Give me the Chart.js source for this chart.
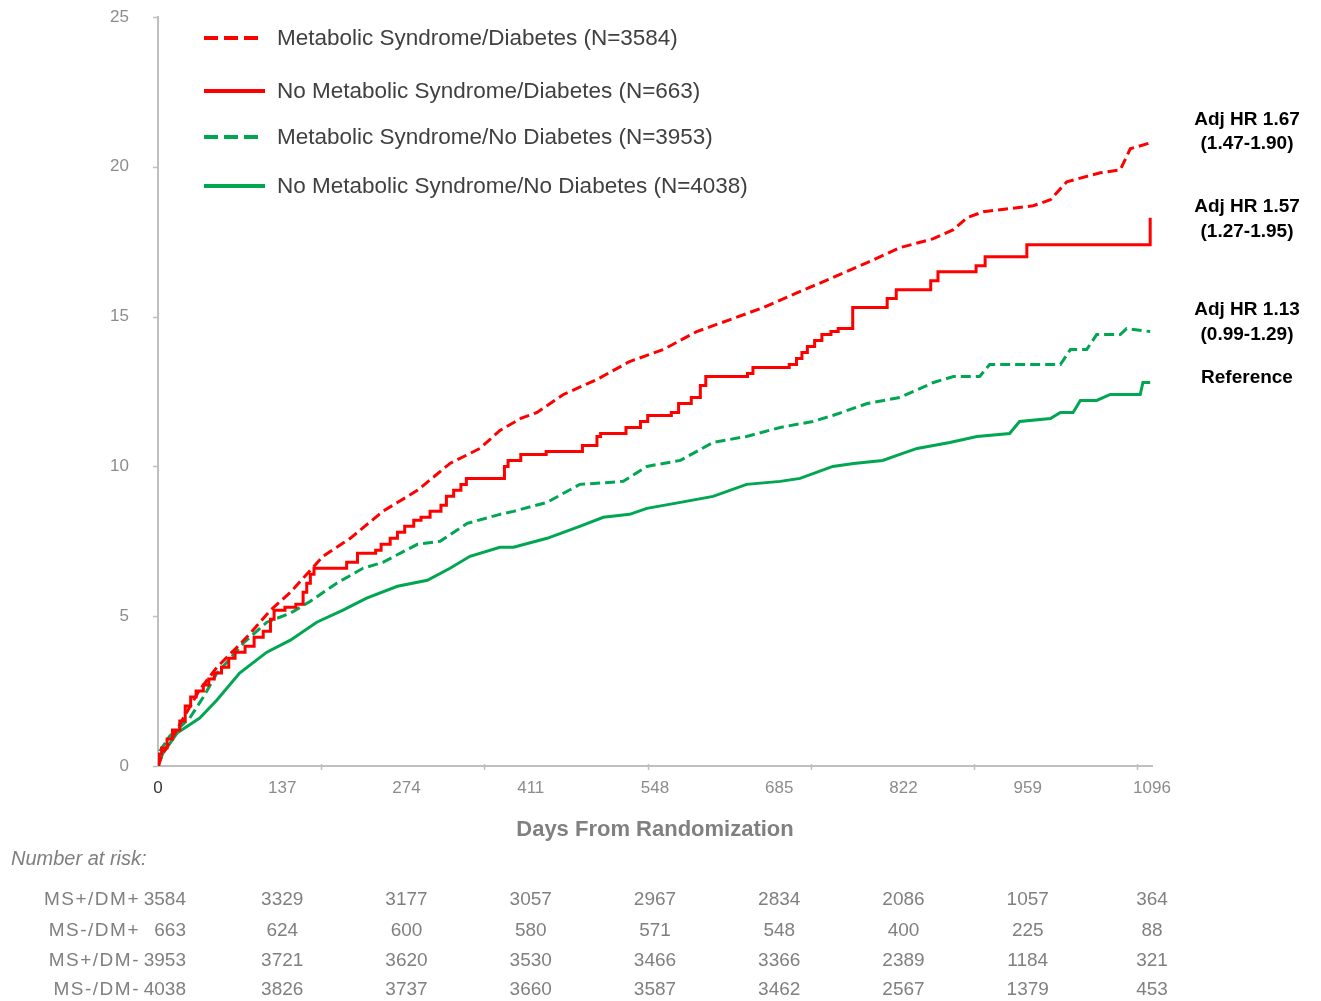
<!DOCTYPE html>
<html>
<head>
<meta charset="utf-8">
<script src="https://cdn.jsdelivr.net/npm/chart.js@4.4.0/dist/chart.umd.min.js"></script>
<style>
html,body{margin:0;padding:0;background:#ffffff;}
#wrap{width:1321px;height:1001px;position:relative;}
</style>
</head>
<body>
<div id="wrap"><canvas id="c" width="1321" height="1001"></canvas></div>
<script>
// ---------- data ----------
const xTickDays = [0, 137, 274, 411, 548, 685, 822, 959, 1096];
const yTickVals = [0, 5, 10, 15, 20, 25];

const seriesNames = [
  'Metabolic Syndrome/Diabetes (N=3584)',
  'No Metabolic Syndrome/Diabetes (N=663)',
  'Metabolic Syndrome/No Diabetes (N=3953)',
  'No Metabolic Syndrome/No Diabetes (N=4038)'
];

// MS+/DM+ (red dashed)
const msDmDays = [0,5,15,28,45,65,85,101,124,146,164,182,212,248,286,322,355,377,400,418,447,484,520,557,594,631,667,705,744,782,818,855,877,892,910,965,984,1002,1039,1061,1072,1094];
const msDmVals = [0,0.4,0.9,1.6,2.5,3.3,3.9,4.4,5.2,5.8,6.4,7.0,7.6,8.5,9.2,10.1,10.6,11.2,11.6,11.8,12.4,12.9,13.5,13.9,14.5,14.9,15.3,15.8,16.3,16.8,17.3,17.6,17.9,18.3,18.5,18.7,18.9,19.5,19.8,19.9,20.6,20.8];

// MS-/DM+ (red solid, step)
const noMsDmDays = [0,1,4,10,16,24,30,36,42,50,56,62,70,78,85,96,106,116,124,128,140,152,160,164,168,172,208,220,240,246,256,264,272,282,290,300,312,318,326,334,340,382,386,400,428,468,484,488,516,532,540,566,574,588,598,604,650,656,696,704,710,716,724,732,742,750,766,804,814,852,860,902,912,958,1094];
const noMsDmVals = [0,0.4,0.6,0.9,1.2,1.5,2.0,2.3,2.5,2.7,2.9,3.1,3.3,3.6,3.8,4.0,4.3,4.5,4.9,5.2,5.3,5.4,5.8,6.1,6.4,6.6,6.8,7.1,7.2,7.4,7.6,7.8,8.0,8.2,8.3,8.5,8.7,9.0,9.2,9.4,9.6,10.0,10.2,10.4,10.5,10.7,11.0,11.1,11.3,11.5,11.7,11.8,12.1,12.3,12.7,13.0,13.1,13.3,13.4,13.6,13.8,14.0,14.2,14.4,14.5,14.6,15.3,15.6,15.9,16.2,16.5,16.7,17.0,17.4,18.3];

// MS+/DM- (green dashed)
const msNoDmDays = [0,2,13,35,50,65,80,94,120,146,168,197,226,248,286,311,341,377,392,429,465,513,539,576,612,649,686,722,744,782,818,855,877,906,917,995,1006,1024,1035,1061,1068,1094];
const msNoDmVals = [0,0.5,1.0,1.6,2.3,3.1,3.6,4.1,4.8,5.1,5.5,6.1,6.6,6.8,7.4,7.5,8.1,8.4,8.5,8.8,9.4,9.5,10.0,10.2,10.8,11.0,11.3,11.5,11.7,12.1,12.3,12.8,13.0,13.0,13.4,13.4,13.9,13.9,14.4,14.4,14.6,14.5];

// MS-/DM- (green solid)
const noMsNoDmDays = [0,5,21,46,65,90,120,146,175,204,230,264,297,322,344,377,392,429,465,491,520,539,576,612,649,686,708,744,767,799,818,837,873,903,939,950,984,995,1009,1017,1035,1050,1083,1086,1094];
const noMsNoDmVals = [0,0.4,1.1,1.6,2.2,3.1,3.8,4.2,4.8,5.2,5.6,6.0,6.2,6.6,7.0,7.3,7.3,7.6,8.0,8.3,8.4,8.6,8.8,9.0,9.4,9.5,9.6,10.0,10.1,10.2,10.4,10.6,10.8,11.0,11.1,11.5,11.6,11.8,11.8,12.2,12.2,12.4,12.4,12.8,12.8];

// Hazard ratio annotations
const hrLines = [
  ['Adj HR 1.67', '(1.47-1.90)'],
  ['Adj HR 1.57', '(1.27-1.95)'],
  ['Adj HR 1.13', '(0.99-1.29)'],
  ['Reference']
];

// Number at risk
const riskTitle = 'Number at risk:';
const riskLabels = ['MS+/DM+', 'MS-/DM+', 'MS+/DM-', 'MS-/DM-'];
const riskMsDm     = [3584, 3329, 3177, 3057, 2967, 2834, 2086, 1057, 364];
const riskNoMsDm   = [663, 624, 600, 580, 571, 548, 400, 225, 88];
const riskMsNoDm   = [3953, 3721, 3620, 3530, 3466, 3366, 2389, 1184, 321];
const riskNoMsNoDm = [4038, 3826, 3737, 3660, 3587, 3462, 2567, 1379, 453];

// ---------- styling ----------
const RED = '#FF0000';
const GREEN = '#00A651';
const AXIS = '#BFBFBF';
const FONT = '"Liberation Sans", Arial, Helvetica, sans-serif';
const toPts = (d, v) => d.map((x, i) => ({x: x, y: v[i]}));

const datasets = [
  {label: seriesNames[0], data: toPts(msDmDays, msDmVals), borderColor: RED, borderDash: [10, 5], stepped: false},
  {label: seriesNames[1], data: toPts(noMsDmDays, noMsDmVals), borderColor: RED, borderDash: [], stepped: true},
  {label: seriesNames[2], data: toPts(msNoDmDays, msNoDmVals), borderColor: GREEN, borderDash: [10, 5], stepped: false},
  {label: seriesNames[3], data: toPts(noMsNoDmDays, noMsNoDmVals), borderColor: GREEN, borderDash: [], stepped: false}
].map(d => Object.assign(d, {borderWidth: 3, pointRadius: 0, fill: false, tension: 0, backgroundColor: d.borderColor}));

const extrasPlugin = {
  id: 'extras',
  afterDraw(chart) {
    const ctx = chart.ctx;
    const xs = chart.scales.x;
    const ys = chart.scales.y;
    const area = chart.chartArea;
    ctx.save();

    // small axis tick marks
    ctx.strokeStyle = AXIS;
    ctx.lineWidth = 1.5;
    for (let d = 180; d <= 1096; d += 180) {
      const px = Math.round(xs.getPixelForValue(d)) + 0.5;
      ctx.beginPath();
      ctx.moveTo(px, area.bottom - 2);
      ctx.lineTo(px, area.bottom + 4);
      ctx.stroke();
    }
    yTickVals.forEach(v => {
      const py = Math.round(ys.getPixelForValue(v)) + 0.5;
      ctx.beginPath();
      ctx.moveTo(area.left - 5, py);
      ctx.lineTo(area.left, py);
      ctx.stroke();
    });

    // legend
    const legY = [38, 91, 137, 186];
    chart.data.datasets.forEach((ds, i) => {
      const y = legY[i];
      ctx.strokeStyle = ds.borderColor;
      ctx.lineWidth = 4;
      ctx.lineCap = 'butt';
      ctx.setLineDash(ds.borderDash.length ? [14, 6] : []);
      ctx.beginPath();
      ctx.moveTo(204, y);
      ctx.lineTo(ds.borderDash.length ? 258 : 265, y);
      ctx.stroke();
      ctx.setLineDash([]);
      ctx.fillStyle = '#404040';
      ctx.font = '22.5px ' + FONT;
      ctx.textAlign = 'left';
      ctx.textBaseline = 'middle';
      ctx.fillText(ds.label, 277, y + 1);
    });

    // HR annotations
    ctx.fillStyle = '#000000';
    ctx.font = 'bold 19px ' + FONT;
    ctx.textAlign = 'center';
    ctx.textBaseline = 'middle';
    const hrY = [[120, 144], [207, 232], [310, 335], [378]];
    hrLines.forEach((lines, i) => {
      lines.forEach((t, j) => ctx.fillText(t, 1247, hrY[i][j]));
    });

    // Number at risk table
    ctx.fillStyle = '#7F7F7F';
    ctx.font = 'italic 20px ' + FONT;
    ctx.textAlign = 'left';
    ctx.fillText(riskTitle, 11, 859);
    const rows = [riskMsDm, riskNoMsDm, riskMsNoDm, riskNoMsNoDm];
    const rowY = [900, 931, 961, 990];
    ctx.font = '19px ' + FONT;
    ctx.fillStyle = '#808080';
    rows.forEach((vals, r) => {
      const y = rowY[r];
      ctx.textAlign = 'right';
      ctx.letterSpacing = '1.5px';
      ctx.fillText(riskLabels[r], 140, y);
      ctx.letterSpacing = '0px';
      ctx.fillText(String(vals[0]), 186, y);
      ctx.textAlign = 'center';
      for (let k = 1; k < vals.length; k++) {
        const px = xs.getPixelForValue(xTickDays[k]);
        ctx.fillText(String(vals[k]), px, y);
      }
    });
    ctx.restore();
  }
};

new Chart(document.getElementById('c'), {
  type: 'line',
  data: {datasets: datasets},
  options: {
    responsive: false,
    animation: false,
    devicePixelRatio: 1,
    layout: {padding: {top: 17, right: 169, bottom: 155, left: 0}},
    plugins: {legend: {display: false}, tooltip: {enabled: false}},
    scales: {
      x: {
        type: 'linear',
        min: 0,
        max: 1096,
        afterBuildTicks: s => { s.ticks = xTickDays.map(v => ({value: v})); },
        afterFit: s => { s.height = 80; },
        ticks: {
          autoSkip: false,
          maxRotation: 0,
          padding: 12,
          font: {family: FONT, size: 17},
          callback: v => String(v),
          color: c => (c.tick && c.tick.value === 0) ? '#333333' : '#8C8C8C'
        },
        grid: {display: false, drawTicks: false},
        border: {display: true, color: AXIS, width: 2},
        title: {
          display: true,
          text: 'Days From Randomization',
          color: '#808080',
          font: {family: FONT, size: 22, weight: 'bold'},
          padding: {top: 0, bottom: 3}
        }
      },
      y: {
        type: 'linear',
        min: 0,
        max: 25,
        afterBuildTicks: s => { s.ticks = yTickVals.map(v => ({value: v})); },
        afterFit: s => { s.width = 158; },
        ticks: {
          padding: 1,
          font: {family: FONT, size: 17},
          color: '#8C8C8C'
        },
        grid: {display: true, drawOnChartArea: false, drawTicks: true, tickLength: 28, tickColor: 'rgba(0,0,0,0)', color: 'rgba(0,0,0,0)'},
        border: {display: true, color: AXIS, width: 2}
      }
    }
  },
  plugins: [extrasPlugin]
});
</script>
</body>
</html>
